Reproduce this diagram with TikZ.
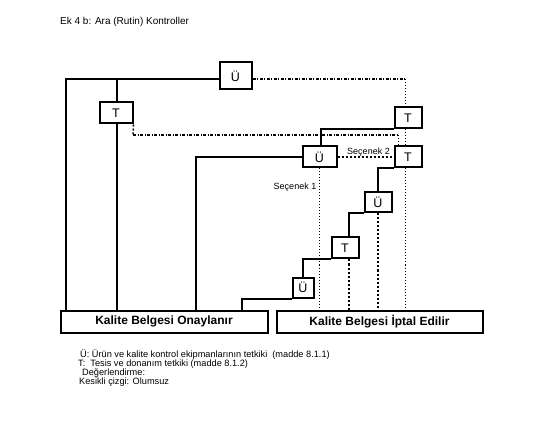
\documentclass[tikz,border=0pt]{standalone}
\usepackage{fontspec}
\setmainfont{Liberation Sans}
\begin{document}
\begin{tikzpicture}[x=1pt,y=-1pt,
  box/.style={draw,line width=2pt,inner sep=0pt,font=\fontsize{12.5}{14}\selectfont},
  endbox/.style={draw,line width=2pt,inner sep=0pt,minimum height=22pt,font=\fontsize{12}{14}\selectfont\bfseries},
  solidline/.style={line width=2pt},
  dashdot/.style={line width=1.3pt,dash pattern=on 3pt off 1.5pt on 1pt off 1.5pt},
  dotthin/.style={line width=1pt,dash pattern=on 1pt off 2pt},
  dotthick/.style={line width=2pt,dash pattern=on 2pt off 2pt},
  lbl/.style={inner sep=0pt,font=\fontsize{9}{10}\selectfont},
  legend/.style={inner sep=0pt,anchor=west,font=\fontsize{9.2}{10}\selectfont}]
\useasboundingbox (0,0) rectangle (535,430);

\node[lbl,anchor=west,font=\fontsize{10}{12}\selectfont] (title) at (60,22) {Ek 4 b: Ara (Rutin) Kontroller};

\node[box,minimum width=32pt,minimum height=27pt] (ut) at (235.5,76) {Ü};
\node[box,minimum width=33pt,minimum height=21pt] (tl) at (116,113) {T};
\node[box,minimum width=27pt,minimum height=21pt] (t1) at (408,118) {T};
\node[box,minimum width=34pt,minimum height=21pt] (um) at (319.5,157) {Ü};
\node[box,minimum width=27pt,minimum height=21pt] (t2) at (408,157) {T};
\node[box,minimum width=27pt,minimum height=20pt] (u3) at (378,202.5) {Ü};
\node[box,minimum width=27pt,minimum height=21pt] (t3) at (345,248) {T};
\node[box,minimum width=21pt,minimum height=20pt] (u4) at (303,287.5) {Ü};
\node[endbox,minimum width=207pt] (ok) at (164,321.5) {Kalite Belgesi Onaylanır};
\node[endbox,minimum width=206pt] (ip) at (379.5,321.5) {Kalite Belgesi İptal Edilir};

\coordinate (a1) at (66,79);
\coordinate (a2) at (117,79);
\coordinate (k3) at (196,310);
\coordinate (k4) at (242,310);
\coordinate (d1) at (405,79);
\coordinate (e1) at (133,135);
\coordinate (e2) at (398,135);

% solid connectors
\draw[solidline] (ut.west |- a1) -- (a1) -- (a1 |- ok.north);
\draw[solidline] (a2) -- (a2 |- tl.north);
\draw[solidline] (a2 |- tl.south) -- (a2 |- ok.north);
\draw[solidline] (um.west) -| (k3);
\draw[solidline] (u4.south west) -| (k4);
\draw[solidline] (t3.south west) -| (u4.north);
\draw[solidline] (u3.south west) -| ([xshift=4pt]t3.north);
\draw[solidline] (t2.south west) -| (u3.north);
\draw[solidline] (t1.south west) -| ([xshift=1.5pt]um.north);

% negative (dashed) connectors
\draw[dashdot] (ut.east |- a1) -- (d1);
\draw[dotthin] (d1) -- (d1 |- t1.north);
\draw[dotthin] (d1 |- t1.south) -- (d1 |- t2.north);
\draw[dotthin] (d1 |- t2.south) -- (d1 |- ip.north);
\draw[dotthick,line width=1.5pt] (tl.south east) -- (e1);
\draw[dashdot] (e1) -- (e2);
\draw[dotthin] (e2) -- (e2 |- t2.north);
\draw[dotthick] (um.east) -- (t2.west);
\draw[dotthin] (um.south) -- (um.south |- ip.north);
\draw[dotthick] (u3.south) -- (u3.south |- ip.north);
\draw[dotthick] ([xshift=4pt]t3.south) -- ([xshift=4pt]t3.south |- ip.north);

\node[lbl] (s2) at (368.5,152) {Seçenek 2};
\node[lbl] (s1) at (295,187) {Seçenek 1};

\node[legend] (l1) at (80,355) {Ü: Ürün ve kalite kontrol ekipmanlarının tetkiki\ \ (madde 8.1.1)};
\node[legend] (l2) at (78,364) {T:\ \ Tesis ve donanım tetkiki (madde 8.1.2)};
\node[legend] (l3) at (82,373) {Değerlendirme:};
\node[legend] (l4) at (79,382) {Kesikli çizgi: Olumsuz};
\end{tikzpicture}
\end{document}
